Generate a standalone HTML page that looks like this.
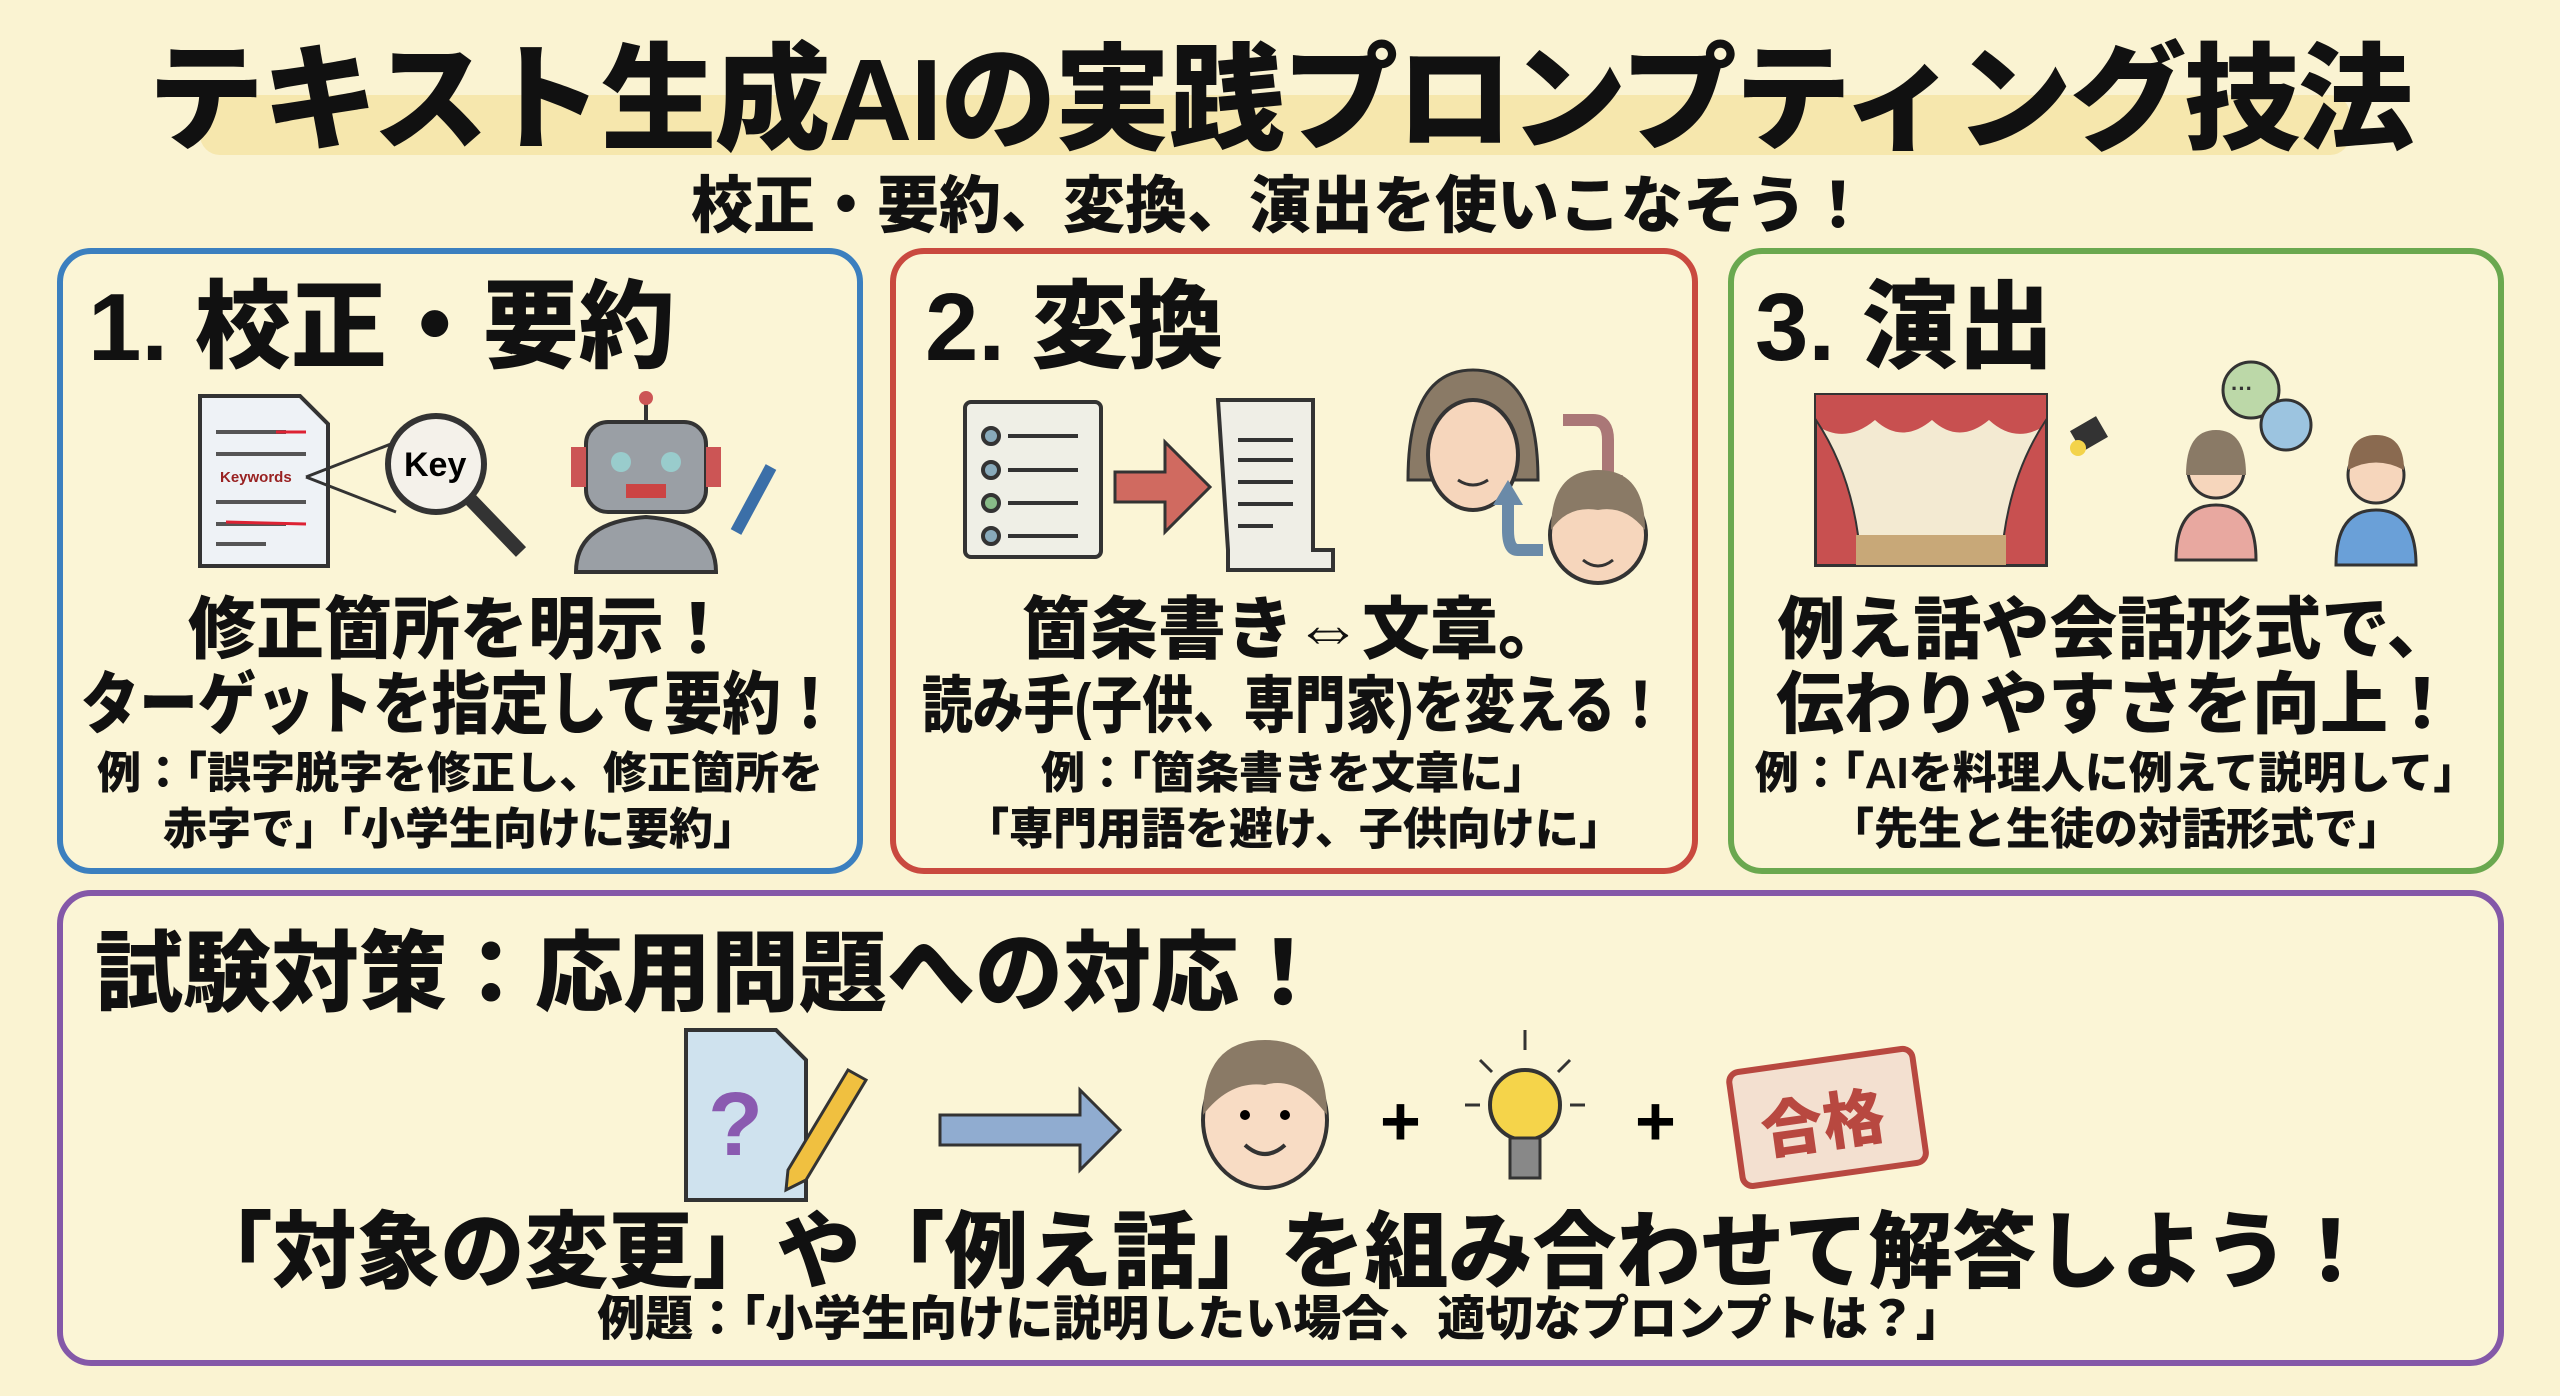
<!DOCTYPE html>
<html><head><meta charset="utf-8">
<style>
body{margin:0;width:2560px;height:1396px;background:#faf3d2;overflow:hidden;position:relative;font-family:"Liberation Sans","Noto Sans CJK JP",sans-serif;font-weight:900;color:#111}
.t{position:absolute;white-space:nowrap;font-weight:900;line-height:1}
.c{text-align:center}
.s{position:absolute;left:50%;top:0;transform-origin:center}
.box{position:absolute;border:6px solid;border-radius:34px;box-sizing:border-box;background:#fbf5d6}
svg{position:absolute;overflow:visible}
</style></head><body>
<div style="position:absolute;left:200px;top:95px;width:2150px;height:60px;background:#f3dc8e;opacity:.55;border-radius:20px"></div>
<div class="t c" style="left:0;width:2560px;top:42px;font-size:116px;letter-spacing:-2px">テキスト生成AIの実践プロンプティング技法</div>
<div class="t c" style="left:0;width:2560px;top:176px;font-size:62px">校正・要約、変換、演出を使いこなそう！</div>

<div class="box" style="left:57px;top:248px;width:806px;height:626px;border-color:#3b7fbf"></div>
<div class="box" style="left:890px;top:248px;width:808px;height:626px;border-color:#c9493f"></div>
<div class="box" style="left:1728px;top:248px;width:776px;height:626px;border-color:#6aa84f"></div>
<div class="box" style="left:57px;top:890px;width:2447px;height:476px;border-color:#8458a8"></div>

<div class="t" style="left:88px;top:280px;font-size:96px">1. 校正・要約</div>
<div class="t" style="left:925px;top:280px;font-size:96px">2. 変換</div>
<div class="t" style="left:1755px;top:280px;font-size:96px">3. 演出</div>

<!-- box1 icons -->
<svg style="left:196px;top:392px" width="600" height="180">
<path d="M4 4h100l28 28v142H4z" fill="#eef2f6" stroke="#333" stroke-width="4"/>
<g stroke="#555" stroke-width="4"><line x1="20" y1="40" x2="90" y2="40"/><line x1="20" y1="62" x2="110" y2="62"/><line x1="20" y1="110" x2="110" y2="110"/><line x1="20" y1="132" x2="90" y2="132"/><line x1="20" y1="152" x2="70" y2="152"/></g>
<g stroke="#d23" stroke-width="3"><line x1="80" y1="40" x2="110" y2="40"/><line x1="30" y1="130" x2="110" y2="132"/></g>
<text x="24" y="90" font-size="15" font-family="Liberation Sans" fill="#922">Keywords</text>
<line x1="110" y1="85" x2="200" y2="50" stroke="#333" stroke-width="3"/><line x1="110" y1="85" x2="200" y2="120" stroke="#333" stroke-width="3"/>
<circle cx="240" cy="72" r="48" fill="#f4f1ea" stroke="#333" stroke-width="6"/>
<line x1="275" y1="108" x2="325" y2="160" stroke="#333" stroke-width="14"/>
<text x="208" y="84" font-size="34" font-family="Liberation Sans" font-weight="bold">Key</text>
<line x1="450" y1="0" x2="450" y2="30" stroke="#333" stroke-width="4"/><circle cx="450" cy="6" r="7" fill="#c55"/>
<rect x="390" y="30" width="120" height="90" rx="22" fill="#9a9fa5" stroke="#333" stroke-width="4"/>
<rect x="375" y="55" width="15" height="40" fill="#c55"/><rect x="510" y="55" width="15" height="40" fill="#c55"/>
<circle cx="425" cy="70" r="10" fill="#9cc"/><circle cx="475" cy="70" r="10" fill="#9cc"/>
<rect x="430" y="92" width="40" height="14" fill="#c44"/>
<path d="M380 180 q0-50 70-55 q70 5 70 55z" fill="#9a9fa5" stroke="#333" stroke-width="4"/>
<line x1="540" y1="140" x2="575" y2="75" stroke="#3b6fa8" stroke-width="12"/>
</svg>

<!-- box2 icons -->
<svg style="left:963px;top:360px" width="700" height="230">
<rect x="2" y="42" width="136" height="155" rx="6" fill="#efefe6" stroke="#333" stroke-width="4"/>
<g stroke="#333" stroke-width="4"><circle cx="28" cy="76" r="8" fill="#8ab"/><line x1="45" y1="76" x2="115" y2="76"/><circle cx="28" cy="110" r="8" fill="#8ab"/><line x1="45" y1="110" x2="115" y2="110"/><circle cx="28" cy="143" r="8" fill="#8b8"/><line x1="45" y1="143" x2="115" y2="143"/><circle cx="28" cy="176" r="8" fill="#8ab"/><line x1="45" y1="176" x2="115" y2="176"/></g>
<path d="M152 112h50v-30l45 45-45 45v-30h-50z" fill="#d06a60" stroke="#333" stroke-width="3"/>
<path d="M255 40h95v150h20v20h-105v-20z" fill="#efeee6" stroke="#333" stroke-width="4"/>
<g stroke="#333" stroke-width="4"><line x1="275" y1="80" x2="330" y2="80"/><line x1="275" y1="100" x2="330" y2="100"/><line x1="275" y1="122" x2="330" y2="122"/><line x1="275" y1="144" x2="330" y2="144"/><line x1="275" y1="166" x2="310" y2="166"/></g>
<path d="M445 120 q0-110 65-110 q65 0 65 110z" fill="#8a7a66" stroke="#333" stroke-width="3"/>
<ellipse cx="510" cy="95" rx="45" ry="55" fill="#f6d6bc" stroke="#333" stroke-width="4"/>
<path d="M495 120 q15 10 30 0" stroke="#333" stroke-width="3" fill="none"/>
<path d="M600 60 h30 q15 0 15 20 v40" stroke="#a77" stroke-width="12" fill="none"/><path d="M630 115 l15 25 l15-25z" fill="#a77"/>
<circle cx="635" cy="175" r="48" fill="#f6d6bc" stroke="#333" stroke-width="4"/>
<path d="M588 170 q0-60 47-60 q47 0 47 60 q-20-25-47-20 q-30-5-47 20z" fill="#8a7a66"/>
<path d="M620 200 q15 12 30 0" stroke="#333" stroke-width="3" fill="none"/>
<path d="M580 190 h-25 q-10 0-10-20 v-30" stroke="#6a8aa8" stroke-width="12" fill="none"/><path d="M530 145 l15-25 l15 25z" fill="#6a8aa8"/>
</svg>

<!-- box3 icons -->
<svg style="left:1816px;top:360px" width="620" height="210">
<rect x="0" y="35" width="230" height="170" fill="#f3ead2" stroke="#333" stroke-width="4"/>
<path d="M0 35h230v30q-30 20-57-5q-30 25-57 0q-30 25-57 0q-30 25-59 5z" fill="#c85050"/>
<path d="M0 60 q40 60 45 145 h-45z" fill="#c85050" stroke="#333" stroke-width="2"/>
<path d="M230 60 q-40 60-45 145 h45z" fill="#c85050" stroke="#333" stroke-width="2"/>
<rect x="40" y="175" width="150" height="30" fill="#c8a878"/>
<rect x="258" y="62" width="30" height="24" fill="#333" transform="rotate(-30 273 74)"/><circle cx="262" cy="88" r="8" fill="#f3d34a"/>
<circle cx="435" cy="30" r="28" fill="#bcd8a8" stroke="#333" stroke-width="3"/><circle cx="470" cy="65" r="25" fill="#9cc4e0" stroke="#333" stroke-width="3"/>
<text x="415" y="36" font-size="22" fill="#333">···</text>
<circle cx="400" cy="110" r="28" fill="#f6d6bc" stroke="#333" stroke-width="3"/>
<path d="M370 115 q0-45 30-45 q30 0 30 45" fill="#8a7a66"/>
<path d="M360 200 q0-55 40-55 q40 0 40 55z" fill="#e8a8a0" stroke="#333" stroke-width="3"/>
<circle cx="560" cy="115" r="28" fill="#f6d6bc" stroke="#333" stroke-width="3"/>
<path d="M532 110 q0-35 28-35 q28 0 28 35 q-28-15-56 0z" fill="#8a6a50"/>
<path d="M520 205 q0-55 40-55 q40 0 40 55z" fill="#6aa0d8" stroke="#333" stroke-width="3"/>
</svg>

<div class="t c" style="left:57px;width:806px;top:596px;font-size:68px">修正箇所を明示！</div>
<div class="t c" style="left:57px;width:806px;top:671px;height:70px;font-size:68px"><span class="s" style="transform:translateX(-50%) scaleX(0.86)">ターゲットを指定して要約！</span></div>
<div class="t c" style="left:57px;width:806px;top:752px;font-size:44px">例：「誤字脱字を修正し、修正箇所を</div>
<div class="t c" style="left:57px;width:806px;top:808px;font-size:44px">赤字で」「小学生向けに要約」</div>

<div class="t c" style="left:890px;width:808px;top:596px;font-size:68px">箇条書き⇔文章。</div>
<div class="t c" style="left:890px;width:808px;top:676px;height:64px;font-size:62px"><span class="s" style="transform:translateX(-50%) scaleX(0.82)">読み手(子供、専門家)を変える！</span></div>
<div class="t c" style="left:890px;width:808px;top:752px;font-size:44px">例：「箇条書きを文章に」</div>
<div class="t c" style="left:890px;width:808px;top:808px;font-size:44px">「専門用語を避け、子供向けに」</div>

<div class="t c" style="left:1728px;width:776px;top:596px;font-size:68px">例え話や会話形式で、</div>
<div class="t c" style="left:1728px;width:776px;top:671px;font-size:68px">伝わりやすさを向上！</div>
<div class="t c" style="left:1728px;width:776px;top:752px;font-size:44px">例：「AIを料理人に例えて説明して」</div>
<div class="t c" style="left:1728px;width:776px;top:808px;font-size:44px">「先生と生徒の対話形式で」</div>

<div class="t" style="left:95px;top:930px;font-size:88px">試験対策：応用問題への対応！</div>

<svg style="left:680px;top:1020px" width="1260" height="170">
<path d="M6 10h90l30 30v140H6z" fill="#cfe2ee" stroke="#333" stroke-width="4"/>
<text x="28" y="135" font-size="90" fill="#8a5ab0" font-family="Liberation Sans" font-weight="bold">?</text>
<path d="M108 150 l60-100 l18 10 l-60 100 l-20 10z" fill="#f0c040" stroke="#333" stroke-width="3"/>
<path d="M260 95 h140 v-25 l40 40 l-40 40 v-25 h-140z" fill="#90acd0" stroke="#333" stroke-width="3"/>
<ellipse cx="585" cy="100" rx="62" ry="68" fill="#f8dcc4" stroke="#333" stroke-width="4"/>
<path d="M523 95 q0-75 62-75 q62 0 62 75 q-30-40-62-30 q-35-5-62 30z" fill="#8a7a66"/>
<circle cx="565" cy="95" r="5"/><circle cx="605" cy="95" r="5"/>
<path d="M565 125 q20 18 40 0" stroke="#333" stroke-width="4" fill="none"/>
<text x="700" y="125" font-size="70" font-family="Liberation Sans" font-weight="bold">+</text>
<circle cx="845" cy="85" r="35" fill="#f5d44a" stroke="#333" stroke-width="4"/>
<rect x="830" y="118" width="30" height="40" fill="#888" stroke="#333" stroke-width="3"/>
<g stroke="#333" stroke-width="3"><line x1="845" y1="10" x2="845" y2="30"/><line x1="800" y1="40" x2="812" y2="52"/><line x1="890" y1="40" x2="878" y2="52"/><line x1="785" y1="85" x2="800" y2="85"/><line x1="890" y1="85" x2="905" y2="85"/></g>
<text x="955" y="125" font-size="70" font-family="Liberation Sans" font-weight="bold">+</text>
<rect x="1055" y="40" width="185" height="115" rx="10" fill="#f3e0d0" stroke="#b84840" stroke-width="6" transform="rotate(-8 1147 97)"/>
<text x="1080" y="125" font-size="62" fill="#b84840" transform="rotate(-8 1147 97)" font-family="Noto Sans CJK JP">合格</text>
</svg>

<div class="t c" style="left:57px;width:2447px;top:1210px;font-size:84px">「対象の変更」や「例え話」を組み合わせて解答しよう！</div>
<div class="t c" style="left:57px;width:2447px;top:1296px;font-size:48px">例題：「小学生向けに説明したい場合、適切なプロンプトは？」</div>
</body></html>
